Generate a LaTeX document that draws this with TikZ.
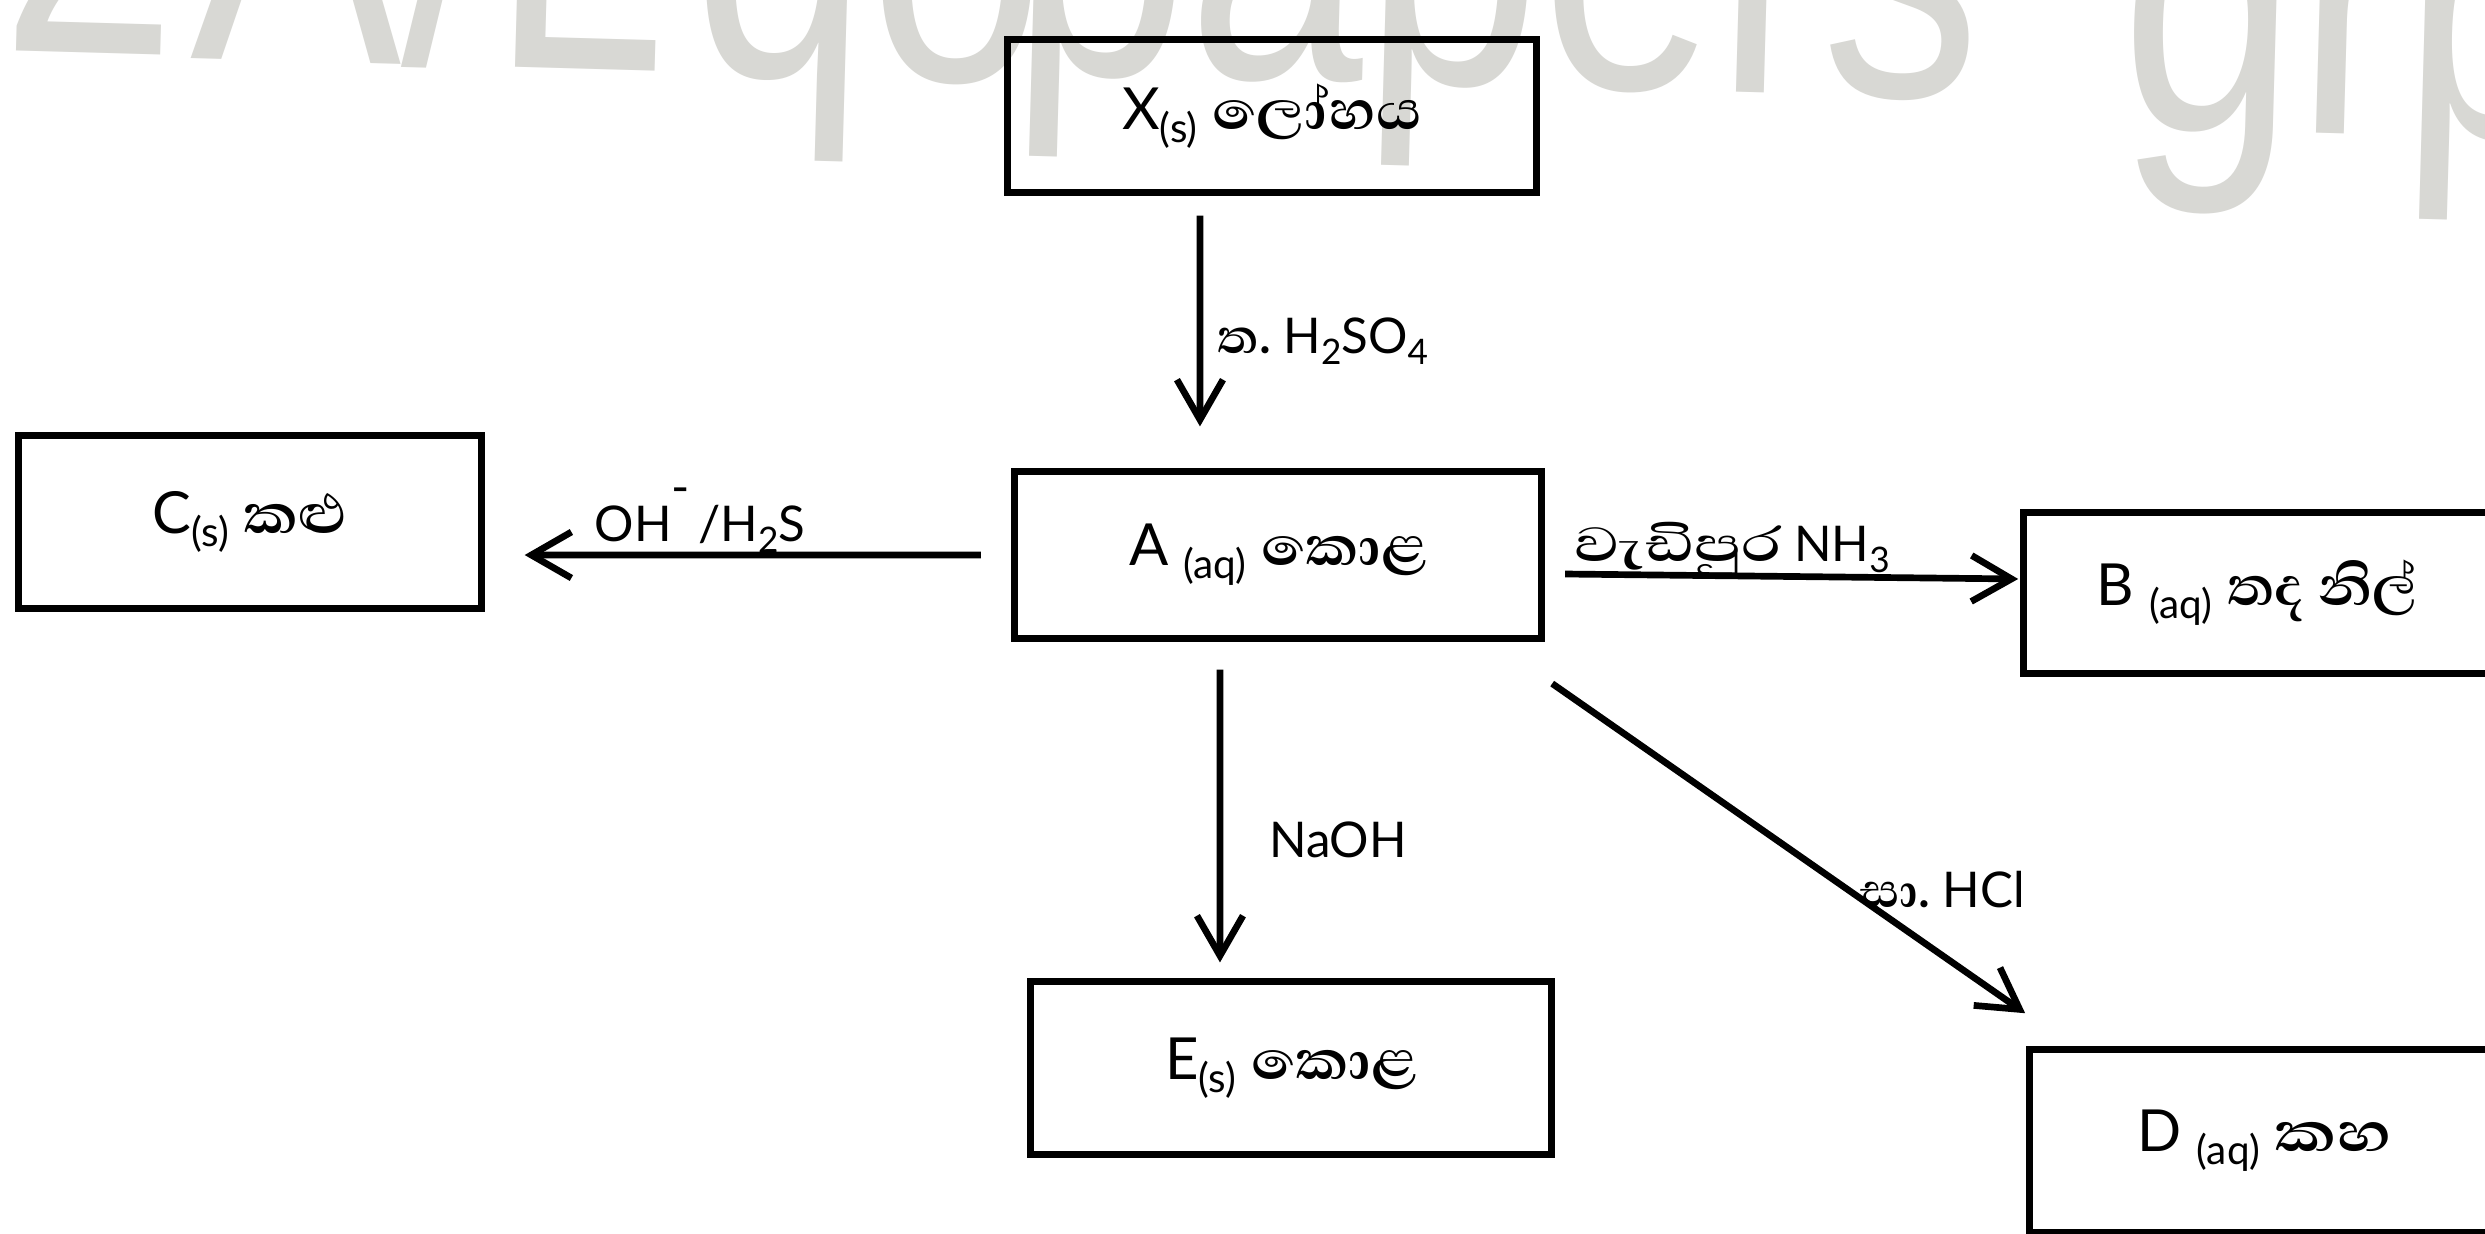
\documentclass[tikz,border=0pt]{standalone}
\usepackage{fontspec}
\setmainfont{Lato}
\newfontfamily\sinhalafont[Script=Sinhala]{Abhaya Libre}
\newfontfamily\wmfont{Liberation Sans}
\usetikzlibrary{arrows.meta}
\definecolor{wmgray}{RGB}{216,216,212}
\newcommand\lsub[1]{\raisebox{-0.45ex}{\fontsize{10}{11}\selectfont #1}}
\newcommand\bsub[1]{\raisebox{-0.45ex}{\fontsize{11.5}{12}\selectfont #1}}
\newcommand\si[2][1]{{\sinhalafont\bfseries\fontsize{17.5}{20}\selectfont\scalebox{#1}[1]{#2}}}
\newcommand\sib[2][1.07]{{\sinhalafont\bfseries\fontsize{20}{22}\selectfont\scalebox{#1}[1]{#2}}}
\newcommand\wmtxt[1]{\scalebox{0.79}[1]{#1}}
\begin{document}
\begin{tikzpicture}[x=0.01cm,y=-0.01cm,
  box/.style={draw, line width=2pt, inner sep=0pt, font=\fontsize{16.5}{19}\selectfont},
  boxtext/.style={inner sep=0pt, font=\fontsize{16.5}{19}\selectfont},
  lbl/.style={inner sep=0pt, font=\fontsize{14}{17}\selectfont},
  arr/.style={line width=1.9pt, -{Straight Barb[length=0.4cm,width=0.46cm,line width=1.9pt]}},
  boxline/.style={line width=2pt},
  wm/.style={text=wmgray, font=\wmfont\fontsize{114}{116}\selectfont, anchor=base west, inner sep=0pt, rotate=-1.6}]
\useasboundingbox (0,0) rectangle (2485,1234);
\clip (0,0) rectangle (2485,1234);
\fill[white] (0,0) rectangle (2485,1234);
% watermark
\node[wm] (w1) at (0,50) {\wmtxt{2}};
\node[wm] (w2) at (190,58) {\wmtxt{A/L}};
\node[wm] (w3) at (690,74) {\wmtxt{qo}};
\node[wm] (w4) at (1010,72) {\wmtxt{papers}};
\node[wm] (w5) at (2118,128) {\wmtxt{grp}};
% boxes
\node[box, minimum width=5.29cm, minimum height=1.52cm] (X) at (1272,116) {X\bsub{(s)} \sib{ලෝහය}};
\node[box, minimum width=5.27cm, minimum height=1.66cm] (A) at (1278,555) {A \bsub{(aq)} \sib{කොළ}};
\node[box, minimum width=4.62cm, minimum height=1.72cm] (C) at (250,522) {C\bsub{(s)} \sib[1.1]{කළු}};
\node[boxtext, minimum width=4.66cm, minimum height=1.60cm] (B) at (2257,593) {B \bsub{(aq)} \sib[1.0]{තද නිල්}};
\draw[boxline] ([xshift=3cm]B.north east) -- (B.north west) -- (B.south west) -- ([xshift=3cm]B.south east);
\node[box, minimum width=5.20cm, minimum height=1.72cm] (E) at (1291,1068) {E\bsub{(s)} \sib{කොළ}};
\node[boxtext, minimum width=4.70cm, minimum height=1.82cm] (D) at (2265,1141) {D \bsub{(aq)} \sib[1.25]{කහ}};
\draw[boxline] ([xshift=3cm]D.north east) -- (D.north west) -- (D.south west) -- ([xshift=3cm]D.south east);
% arrows
\draw[arr] ([xshift=-0.72cm,yshift=-0.20cm]X.south) -- ([xshift=-0.78cm,yshift=0.42cm]A.north);
\draw[arr] ([xshift=-0.30cm]A.west) -- ([xshift=0.40cm,yshift=-0.33cm]C.east);
\draw[arr] ([xshift=0.20cm,yshift=-0.19cm]A.east) -- ([xshift=-0.05cm,yshift=0.14cm]B.west);
\draw[arr] ([xshift=-0.58cm,yshift=-0.28cm]A.south) -- ([xshift=-0.71cm,yshift=0.16cm]E.north);
\draw[arr] ([xshift=0.07cm,yshift=-0.42cm]A.south east) -- ([xshift=-0.04cm,yshift=0.36cm]D.north west);
% labels
\node[lbl, anchor=west] (l1) at (1217,341) {\si{ත.} H\lsub{2}SO\lsub{4}};
\node[lbl, anchor=south] (l2) at (700,553) {OH\raisebox{0.75em}{-}\,/H\lsub{2}S};
\node[lbl, anchor=south] (l3) at (1732,576) {\si[1.3]{වැඩිපුර} NH\lsub{3}};
\node[lbl] (l4) at (1338,840) {NaOH};
\node[lbl, anchor=west] (l5) at (1860,890) {\si{සා.} HCl};
\end{tikzpicture}
\end{document}
